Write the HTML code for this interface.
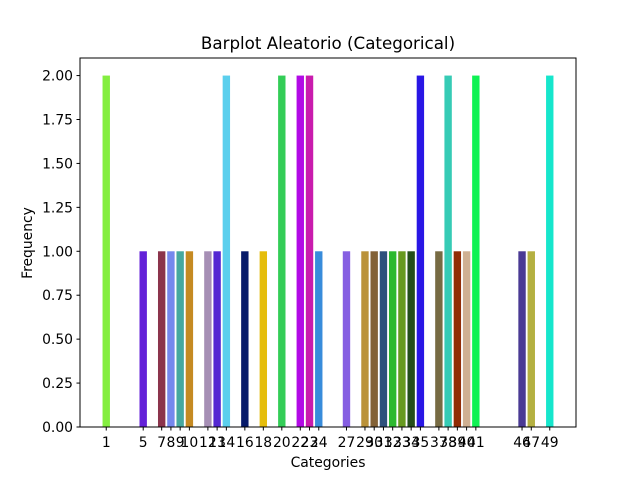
<!DOCTYPE html>
<html><head><meta charset="utf-8"><style>
body{margin:0;background:#fff;}
svg text{font-family:"DejaVu Sans","Liberation Sans",sans-serif;fill:#000;}
</style></head><body>
<svg id="chart" width="640" height="480" viewBox="0 0 640 480" xmlns="http://www.w3.org/2000/svg">
<rect width="640" height="480" fill="#fff"/>
<text x="328" y="49" font-size="16.7" text-anchor="middle">Barplot Aleatorio (Categorical)</text>
<g id="bars"></g>
<g id="xticks"></g>
<g id="yticks"></g>
<rect x="80" y="58" width="496" height="369" fill="none" stroke="#000" stroke-width="1"/>
<text x="328" y="467" font-size="13.9" text-anchor="middle">Categories</text>
<text x="32" y="243" font-size="13.9" text-anchor="middle" transform="rotate(-90 32 243)">Frequency</text>
</svg>
<script>
const categories=[1,5,7,8,9,10,12,13,14,16,18,20,22,23,24,27,29,30,31,32,33,34,35,37,38,39,40,41,46,47,49];
const values=[2,1,1,1,1,1,1,1,2,1,1,2,2,2,1,1,1,1,1,1,1,1,2,1,2,1,1,2,1,1,2];
const colors=["#84ee40","#6321d8","#8b344c","#7588ee","#46a89f","#c58a22","#a68fb5","#5428d2","#5bcfed","#061a6a","#e5bd0c","#33cd57","#b20ae6","#c91bad","#388cdb","#865fe2","#ba923a","#836237","#2e517c","#2cb92e","#679a1f","#244e1a","#2916e5","#776b43","#36cbb5","#912c05","#cfb092","#0ef253","#4a3a94","#b4b041","#16e6cc"];
const yTicks=[0,0.25,0.5,0.75,1,1.25,1.5,1.75,2];
const NS="http://www.w3.org/2000/svg";
const xmin=-1.84,xmax=51.84,L=80,R=576,T=58,B=427,ymax=2.1;
const xs=v=>L+(v-xmin)/(xmax-xmin)*(R-L);
const ys=v=>B-v/ymax*(B-T);
const bw=0.8*(R-L)/(xmax-xmin);
function mk(tag,attrs,parent){const e=document.createElementNS(NS,tag);for(const k in attrs)e.setAttribute(k,attrs[k]);parent.appendChild(e);return e;}
const gb=document.getElementById('bars'),gx=document.getElementById('xticks'),gy=document.getElementById('yticks');
categories.forEach((c,i)=>{
 const r=mk('rect',{x:xs(c)-bw/2,y:ys(values[i]),width:bw,height:B-ys(values[i]),fill:colors[i]},gb);
 
 
 const t=mk('line',{x1:xs(c),x2:xs(c),y1:B,y2:B+3.5,stroke:'#000'},gx);
 
 
 const l=mk('text',{x:xs(c),y:B+20,'font-size':13.9,'text-anchor':'middle'},gx);
 l.textContent=c;
 
 
});
yTicks.forEach(v=>{
 const t=mk('line',{x1:L-3.5,x2:L,y1:ys(v),y2:ys(v),stroke:'#000'},gy);
 
 
 const l=mk('text',{x:L-7,y:ys(v)+5,'font-size':13.9,'text-anchor':'end'},gy);
 l.textContent=v.toFixed(2);
 
 
});
</script>
</body></html>
